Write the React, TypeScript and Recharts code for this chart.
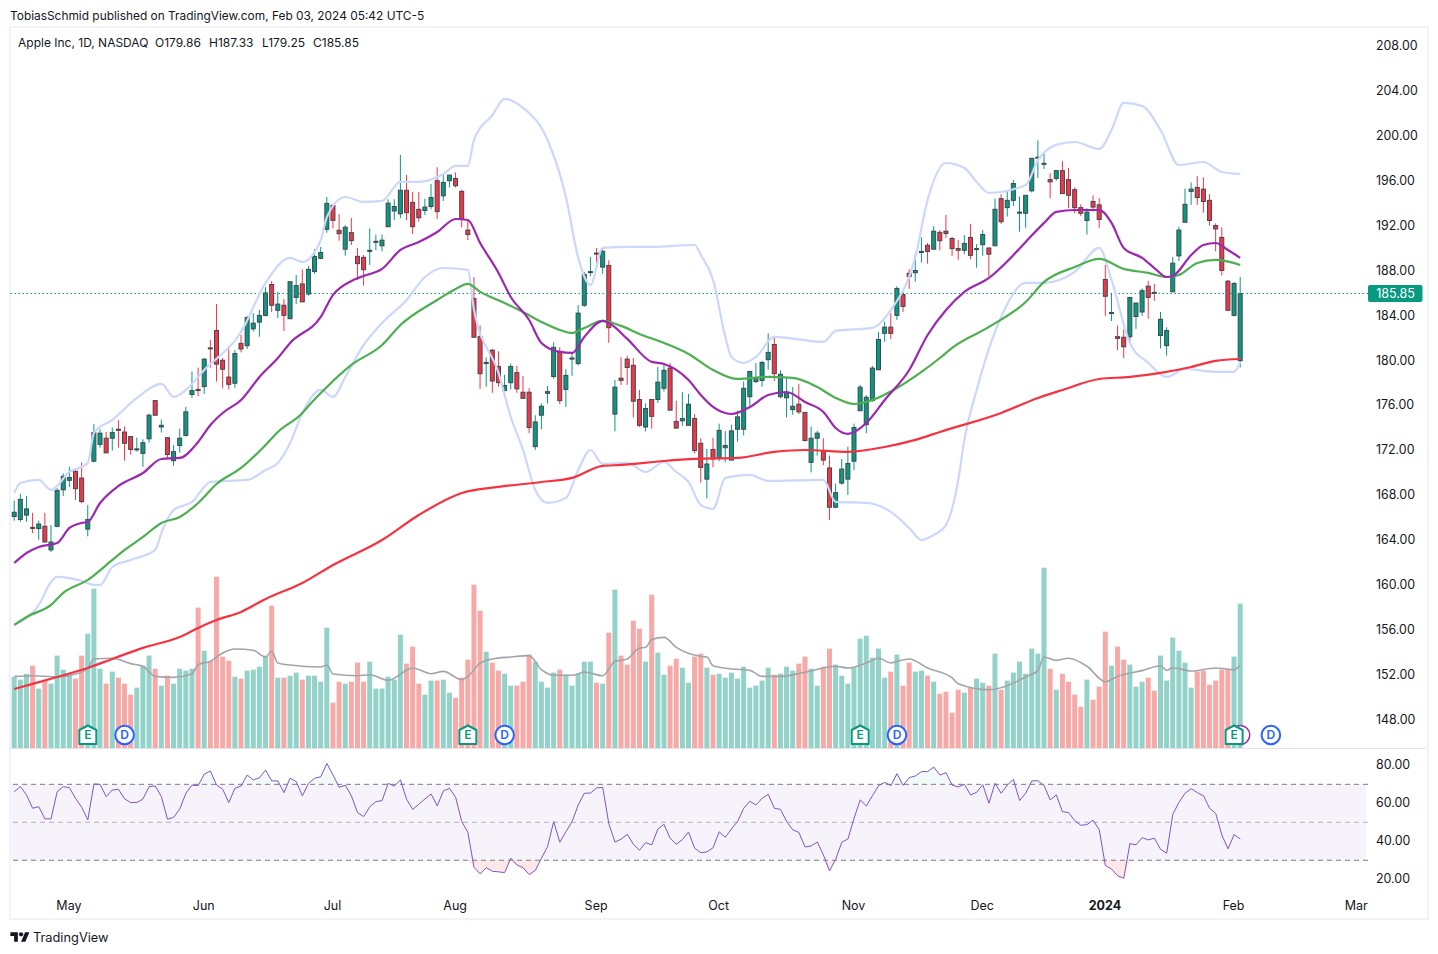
import React from "react";
import { ComposedChart, Bar, Line, Area, XAxis, YAxis, ReferenceLine, ReferenceArea, ReferenceDot } from "recharts";

const opens = [
165.97,165.7,166.1,165.0,164.9,165.1,163.0,165.1,168.35,169.2,
170.0,169.4,164.85,170.9,172.4,172.95,172.95,173.75,173.5,173.1,
171.95,171.6,172.9,176.3,173.95,173.0,170.95,172.3,173.2,176.85,
177.3,177.55,181.0,182.55,179.9,178.4,177.85,181.4,181.2,182.7,
183.3,183.9,186.65,184.35,184.8,183.6,185.5,186.7,185.8,187.8,
188.98,191.57,193.7,191.48,189.8,191.27,189.16,189.07,189.6,190.5,
190.1,191.8,193.2,192.95,195.05,193.97,193.35,193.25,193.6,195.9,
194.55,195.9,196.1,194.95,191.5,185.4,182.0,179.6,180.8,179.35,
177.2,177.9,178.8,177.05,177.05,172.2,175.0,176.95,178.45,180.6,
177.3,180.0,179.6,184.8,187.75,189.45,188.2,188.35,175.1,178.3,
180.0,179.45,176.4,173.95,176.4,176.4,177.4,179.2,174.45,174.5,
174.1,174.7,172.5,169.3,171.95,171.15,172.1,171.0,173.75,173.75,
176.65,178.0,178.1,179.95,181.3,176.65,176.55,175.5,175.98,175.25,
170.8,172.95,171.8,170.3,166.8,168.95,169.3,170.9,175.4,174.15,
176.3,179.05,182.3,182.85,183.9,185.75,187.65,187.7,189.5,190.15,
189.8,191.3,191.4,190.75,189.85,189.7,190.85,189.8,190.2,189.9,
190.1,194.3,193.5,194.15,193.1,193.0,195.0,197.9,197.45,196.0,
196.1,196.8,196.0,195.1,193.5,192.35,194.05,193.75,187.1,184.15,
182.0,181.95,182.0,183.8,184.2,186.5,185.95,182.1,181.2,186.0,
189.2,192.2,194.95,195.3,195.15,194.15,191.9,190.85,186.95,183.9,179.86];

const highs = [
167.4,168.0,167.8,166.3,165.6,166.3,165.2,168.5,169.8,170.4,
170.3,170.8,167.0,174.2,173.75,173.5,173.9,174.55,174.0,173.1,
173.0,172.85,175.15,176.35,174.6,173.0,172.35,173.8,175.75,178.9,
179.25,180.1,181.7,184.9,180.1,181.15,180.8,182.15,183.85,184.1,
184.4,186.4,186.95,186.0,185.35,186.9,187.5,188.0,188.3,189.8,
189.99,194.45,193.8,192.93,191.95,192.58,189.9,189.28,191.65,191.1,
191.1,194.25,194.25,198.2,196.4,194.9,194.9,194.3,195.6,197.1,
196.55,196.4,196.65,195.1,192.4,187.3,183.0,180.15,180.9,180.7,
178.6,179.6,179.4,178.5,177.4,175.0,176.05,177.6,181.5,181.05,
179.1,180.5,184.8,187.75,189.1,189.9,189.85,188.8,178.15,180.17,
180.3,180.1,177.25,176.05,176.4,179.3,179.6,179.65,176.3,177.05,
176.9,175.1,172.95,172.0,173.0,174.25,173.6,174.15,175.4,178.0,
178.95,179.65,179.85,182.3,181.9,179.0,178.4,177.5,177.8,175.25,
174.0,173.6,172.95,171.4,168.9,171.1,172.2,174.25,177.7,176.8,
179.4,182.4,183.35,184.1,186.5,186.0,188.0,189.4,190.85,190.35,
191.85,191.5,192.85,190.9,190.6,191.05,192.05,190.25,191.5,189.95,
194.3,194.7,194.95,195.95,194.5,194.6,197.9,199.5,198.35,196.55,
196.8,197.65,197.05,195.3,193.8,193.45,194.6,194.35,188.4,185.8,
183.0,182.65,185.5,185.0,186.3,186.95,186.7,184.2,182.85,189.1,
191.8,195.2,195.75,196.3,196.2,194.7,192.1,191.75,187.05,186.85,187.33];

const lows = [
165.6,165.5,165.5,164.5,163.9,163.7,162.8,165.0,167.8,168.6,
167.45,167.15,164.2,170.8,172.1,171.6,171.85,172.1,170.95,171.5,
171.75,170.4,172.55,174.95,173.45,171.15,170.5,171.65,173.1,176.55,
176.7,176.9,179.25,178.0,177.4,177.3,177.45,180.6,180.9,182.45,
182.0,183.8,184.2,183.65,182.5,183.6,184.9,185.1,185.65,187.6,
188.9,191.27,191.65,190.56,189.22,190.17,187.05,186.55,188.4,189.7,
189.6,191.8,192.4,192.55,192.4,191.15,192.25,192.85,193.35,192.5,
194.1,195.3,195.3,191.75,190.6,181.95,177.35,177.55,177.0,177.55,
176.55,177.3,177.0,176.5,173.4,171.9,173.75,176.05,178.25,176.0,
175.75,178.5,179.45,184.65,187.4,188.25,187.6,181.45,173.55,177.7,
177.7,174.8,173.95,173.55,173.8,176.1,177.1,175.45,173.85,174.05,
174.1,171.6,169.0,167.6,170.35,170.9,170.8,171.0,172.65,173.2,
175.85,177.85,177.55,179.05,178.05,176.5,174.8,175.05,175.1,172.65,
169.9,171.4,170.55,165.67,166.7,168.8,167.9,170.1,175.4,173.4,
176.2,179.05,181.55,181.8,183.5,184.2,186.25,186.9,188.6,188.5,
189.75,189.7,190.8,189.2,188.85,189.35,188.9,188.15,189.2,187.4,
190.1,192.05,192.7,193.65,191.35,191.7,194.85,196.15,196.95,194.35,
195.9,194.75,193.45,193.0,192.75,191.1,193.15,191.7,183.85,183.4,
180.8,180.1,181.5,182.7,183.85,183.6,185.2,180.95,180.3,186.0,
188.75,192.2,193.75,193.75,193.05,191.9,189.6,187.45,184.35,183.8,179.25];

const closes = [
166.35,167.5,166.65,164.95,165.3,163.7,163.7,168.3,169.55,169.45,
168.45,167.3,165.7,173.45,173.4,171.65,173.45,173.65,172.5,171.95,
172.0,172.55,175.0,175.0,174.1,171.5,171.75,172.95,175.3,177.2,
177.2,180.0,180.95,179.55,179.1,177.75,180.5,180.9,183.7,183.2,
183.9,185.9,184.8,184.9,183.9,186.9,186.55,185.1,188.0,189.15,
189.5,193.88,192.37,191.18,191.75,190.56,188.51,187.97,189.7,190.5,
190.6,193.9,193.6,195.05,193.05,191.8,192.6,193.55,194.4,193.15,
195.75,196.4,195.45,192.45,191.1,181.95,178.7,179.7,178.05,177.9,
177.65,179.35,177.35,176.5,173.9,174.4,175.8,177.1,181.05,176.3,
178.55,180.1,184.1,187.55,187.8,189.4,189.6,182.8,177.5,178.1,
179.25,176.25,174.1,175.6,174.9,177.95,179.0,175.45,173.85,174.7,
175.98,171.85,170.35,170.65,171.1,173.65,172.3,173.6,174.85,177.4,
178.9,178.3,179.7,180.6,178.7,178.65,177.0,175.8,175.3,172.75,
172.95,173.4,171.0,166.8,168.1,170.2,170.7,173.9,177.5,176.6,
179.2,181.75,182.85,182.3,186.3,184.7,187.35,187.9,189.6,189.6,
191.4,190.55,191.2,189.85,189.7,190.3,189.25,189.85,191.1,189.35,
193.35,192.25,194.15,195.65,193.1,194.6,197.9,198.0,197.45,195.8,
196.8,194.75,194.6,193.5,193.0,193.1,193.55,192.45,185.6,184.15,
181.85,181.1,185.5,185.0,186.1,185.5,185.85,183.55,182.55,188.55,
191.5,193.8,195.15,194.4,194.05,192.35,191.6,187.9,184.35,186.75,185.85];

const volumes = [
50.6,48.7,52.9,58.6,42.3,48.0,45.8,65.8,55.8,52.2,
49.4,65.8,81.4,113.5,56.5,45.8,54.4,50.1,45.8,38.0,
43.0,58.6,65.8,56.5,44.4,51.5,45.8,56.5,55.1,56.5,
100.0,69.3,62.2,122.0,65.1,62.2,50.8,49.4,55.1,55.8,
57.9,65.8,101.4,50.1,50.1,51.5,53.7,48.7,51.5,51.5,
47.2,85.7,32.3,47.2,45.8,47.2,60.8,47.2,61.5,42.3,
42.3,50.8,48.7,80.7,60.1,72.2,45.8,38.0,48.0,48.0,
48.7,39.4,35.8,50.1,62.9,116.3,97.8,68.6,60.8,55.1,
52.9,44.4,44.4,47.2,66.5,61.5,47.2,43.0,53.7,55.8,
52.2,44.4,52.9,61.5,61.5,46.5,45.8,82.1,112.8,65.8,
59.4,90.7,85.0,61.5,109.2,67.9,52.2,58.6,63.6,57.2,
46.5,65.1,67.2,57.2,52.2,52.9,50.1,53.7,49.4,57.9,
43.0,44.4,48.0,57.2,52.2,52.9,57.9,55.1,60.1,65.1,
56.5,44.4,57.9,70.8,59.4,51.5,45.8,57.2,77.9,80.0,
64.3,70.8,50.1,54.4,66.5,44.4,60.8,54.4,55.1,51.5,
47.2,38.7,40.1,25.2,41.5,39.4,43.0,49.4,46.5,44.4,
67.2,41.5,48.0,53.7,61.5,52.9,70.8,67.2,128.4,56.5,
41.5,52.9,47.2,38.0,29.4,48.7,34.4,43.7,82.9,58.6,
72.2,62.9,59.4,43.7,47.2,50.1,40.8,65.8,48.0,78.6,
69.3,60.8,43.0,54.4,55.1,45.1,48.0,55.8,56.3,65.1,102.8];

const rsiValues = [
66.1,68.8,64.4,57.4,58.2,51.8,51.8,66.1,68.8,68.2,
62.6,57.9,51.2,70.2,70,63.5,67,67.4,62.3,60.4,
60.4,62.3,68.8,69.1,63.5,51.6,52.6,57,65.3,69.6,
69.3,75.4,77,69.6,67.4,60.4,67.9,69.1,74.9,72.3,
73.5,77.5,71.8,71.8,65.6,73.2,71.4,63.9,70.5,73.2,
74,81,74.9,68.4,69.5,63.9,55.1,53,58.2,60.9,
61.4,70.5,69.1,72.3,62.1,56.8,59.5,62.3,64.9,58.6,
66.5,67.9,63.2,50.4,44.7,26.3,22.8,26.1,24.2,23.9,
23.5,31.1,27.5,26.1,22.5,24.6,31.1,37.2,50.4,39.5,
45.1,50.4,59.1,65.3,65.4,68.1,68.4,49.1,39.6,41.1,
43.7,38.4,35.3,39.3,38.1,46.5,48.9,41.6,38.4,40.9,
44.9,36.3,34,34.4,36.6,45,42.1,46.5,50.4,57.4,
61.1,59.1,62.6,64.7,57.4,56.8,50.4,46,44.7,37,
37.5,39.6,32.8,24.4,30.5,39.5,41.2,52.1,61.8,58.6,
64,69.3,71,69.3,75.6,69.5,73.5,74.4,76.7,76.7,
79.1,74.9,76.1,69.6,68.6,70,64.4,65.8,69.8,60,
70.5,65.3,69.6,72.6,61.4,65.3,71.8,71.9,69.3,61.8,
64.4,55.6,55.1,50.9,48.4,48.8,51.1,46,27.2,25.4,
21.8,20.5,38.8,38.1,41.9,40.7,41.6,35.8,33.7,54.2,
60.5,65.3,67.7,65.6,64,57.4,54.7,43.3,36,43.5,41.2];

type Pt = [number, number];
const ma20Points: Pt[] = [[0,161.83],[2,162.72],[4,163.26],[7,163.61],[9,164.95],[11,165.4],[12,165.49],[14,167.18],[17,168.7],[21,169.85],[24,171.1],[27,171.19],[30,172.62],[32,174.13],[34,175.2],[37,176.36],[40,178.41],[43,180.1],[45,181.44],[50,183.76],[52,185.72],[55,186.97],[57,187.41],[60,188.04],[63,189.73],[66,190.44],[69,191.33],[72,192.49],[74,192.4],[76,190.35],[79,187.68],[81,185.54],[84,183.49],[86,181.44],[89,180.64],[91,180.55],[93,181.98],[96,183.4],[97,183.22],[100,181.8],[104,179.75],[106,179.57],[110,178.14],[112,176.8],[114,175.74],[117,175.11],[120,175.74],[123,176.8],[126,177.07],[129,176.18],[132,175.29],[134,173.86],[136,173.33],[139,174.31],[142,176.36],[146,179.03],[149,182.15],[152,184.38],[155,185.99],[159,187.23],[163,189.28],[165,190.44],[168,192.14],[170,193.12],[173,193.29],[177,193.29],[179,192.14],[181,189.91],[184,189.02],[186,188.12],[188,187.32],[189,187.41],[192,189.28],[194,190.17],[196,190.35],[198,189.73],[200,189.02]];
const ma50Points: Pt[] = [[0,156.31],[2,157.02],[6,158.09],[8,159.16],[12,160.32],[16,162.1],[18,162.99],[21,164.15],[24,165.4],[27,165.93],[30,167.18],[33,168.87],[37,170.3],[41,172.35],[43,173.51],[47,175.2],[48,175.83],[51,177.52],[55,179.48],[60,181.26],[63,183.04],[69,185.27],[72,186.25],[74,186.7],[76,185.99],[80,185.0],[83,184.2],[86,183.31],[89,182.6],[91,182.33],[93,182.78],[96,183.4],[99,182.96],[102,182.24],[106,181.44],[110,180.46],[114,179.03],[118,178.23],[123,178.41],[127,178.32],[131,177.52],[134,176.54],[137,176.0],[140,176.36],[144,177.43],[148,178.86],[151,180.1],[153,181.0],[159,182.87],[165,185.09],[168,186.88],[173,188.21],[177,188.93],[181,188.04],[185,187.68],[188,187.32],[190,187.5],[193,188.57],[196,188.84],[200,188.39]];
const ma200Points: Pt[] = [[0,150.6],[3,151.05],[7,151.67],[12,152.47],[16,153.28],[21,154.26],[27,155.24],[30,156.04],[33,156.75],[37,157.47],[41,158.62],[47,160.05],[52,161.65],[60,163.88],[66,166.11],[73,168.07],[79,168.61],[86,169.05],[91,169.41],[96,170.48],[99,170.57],[106,170.92],[111,171.1],[118,171.19],[124,171.73],[129,171.9],[136,171.73],[142,172.17],[147,172.8],[151,173.51],[161,175.2],[167,176.54],[171,177.25],[177,178.23],[182,178.41],[187,178.77],[192,179.3],[196,179.84],[200,180.01]];
const bbUpperPoints: Pt[] = [[0,168.07],[1,168.96],[4,169.23],[6,168.34],[9,169.94],[12,170.75],[13,173.42],[16,174.58],[20,176.54],[24,177.79],[26,176.63],[28,177.25],[31,179.03],[37,182.42],[41,186.79],[45,189.02],[47,188.66],[50,190.62],[51,192.67],[54,194.45],[57,194.01],[60,194.1],[63,195.79],[66,195.79],[70,196.5],[72,197.22],[74,197.22],[75,199.53],[78,201.76],[80,203.19],[83,202.39],[87,199.53],[90,194.45],[92,189.02],[94,186.61],[96,189.91],[100,190.0],[104,190.0],[111,190.17],[112,189.28],[114,187.06],[116,181.98],[117,180.19],[119,179.66],[121,180.19],[124,181.98],[132,181.53],[134,182.51],[140,182.78],[143,184.38],[147,189.11],[149,194.19],[152,197.48],[155,197.04],[157,195.79],[159,194.81],[165,195.52],[167,197.75],[170,199.09],[173,199.35],[177,198.73],[179,200.42],[181,202.83],[184,202.56],[187,200.42],[190,197.3],[194,197.57],[197,196.68],[200,196.5]];
const bbLowerPoints: Pt[] = [[0,156.31],[4,158.09],[6,160.14],[7,160.59],[11,160.23],[13,159.87],[14,159.87],[16,161.48],[19,162.1],[23,162.99],[24,164.51],[26,166.56],[29,167.27],[32,169.05],[38,169.23],[41,170.12],[43,170.75],[45,172.53],[47,175.2],[50,177.25],[52,176.63],[54,178.41],[57,181.26],[60,183.22],[64,185.27],[67,187.32],[70,188.12],[74,187.95],[75,184.38],[79,178.77],[81,174.85],[83,171.9],[85,168.34],[87,167.18],[90,167.63],[92,170.12],[94,171.9],[96,170.66],[100,170.75],[103,169.94],[106,170.83],[108,169.94],[110,169.05],[112,167.0],[114,166.65],[116,169.41],[120,169.68],[123,169.14],[132,169.23],[134,167.27],[139,167.18],[143,166.38],[146,164.95],[148,163.88],[150,164.33],[152,165.22],[154,169.23],[155,172.8],[157,177.25],[161,183.76],[165,186.79],[168,186.79],[173,187.77],[177,189.91],[179,187.06],[182,181.44],[185,179.66],[188,178.41],[191,179.12],[196,178.86],[199,178.86],[200,179.75]];
const volMaPoints: Pt[] = [[0,51.0],[3,51.5],[7,50.6],[10,52.7],[12,57.0],[13,63.4],[16,63.9],[19,60.1],[21,58.2],[23,51.0],[26,50.3],[29,52.9],[30,59.4],[32,61.7],[34,67.7],[36,70.5],[39,69.6],[41,64.8],[42,68.9],[43,60.5],[45,59.1],[50,57.7],[51,59.1],[52,52.7],[56,51.5],[58,52.2],[61,48.2],[65,57.0],[68,52.9],[70,54.6],[73,48.7],[74,51.0],[76,60.5],[78,63.4],[81,64.8],[84,65.8],[86,55.8],[88,51.8],[91,51.8],[93,54.1],[96,51.5],[98,61.7],[100,63.4],[102,71.2],[103,71.7],[104,77.2],[106,78.8],[108,71.7],[112,65.3],[113,64.8],[114,58.6],[117,56.3],[120,55.3],[122,51.0],[125,51.0],[129,53.9],[134,58.2],[136,57.0],[139,60.5],[141,63.9],[143,60.5],[144,61.7],[146,63.4],[149,57.0],[153,49.9],[154,45.8],[159,41.5],[162,44.4],[165,50.6],[167,55.3],[168,64.8],[170,62.4],[172,63.9],[175,58.2],[178,47.2],[180,51.0],[184,55.1],[187,58.6],[188,55.3],[189,57.2],[192,54.8],[196,57.0],[199,55.8],[200,59.1]];

const priceTicks = [148,152,156,160,164,168,172,176,180,184,188,192,196,200,204,208];
const rsiTicks = [20,40,60,80];
const monthTickIndex = [9,31,52,72,95,115,137,158,178,199,219];
const monthTickLabels = ["May","Jun","Jul","Aug","Sep","Oct","Nov","Dec","2024","Feb","Mar"];
const earningsBars = [12,74,138,199];
const dividendBars = [18,80,144,205];
const splitRingBars = [200];
const lastClose = 185.85;
const markerLevel = 9.26;
const totalRows = 221;

const rows: any[] = Array.from({ length: totalRows }, (_, i) => ({
  i,
  o: opens[i] ?? null, h: highs[i] ?? null, l: lows[i] ?? null, c: closes[i] ?? null,
  v: volumes[i] ?? null, rsi: rsiValues[i] ?? null,
}));
const fill = (pts: Pt[], key: string) => pts.forEach(([i, v]) => { rows[i][key] = v; });
fill(ma20Points, "ma20"); fill(ma50Points, "ma50"); fill(ma200Points, "ma200");
fill(bbUpperPoints, "bbU"); fill(bbLowerPoints, "bbL"); fill(volMaPoints, "volMa");

const UP = "#089981", DOWN = "#f23645", FONT = "Inter, sans-serif", TXT = "#131722";
const W = 1438, H = 954;
const xPad = { left: 1.2, right: 2.1 };

const Candle = (p: any) => {
  const { x, y, width, height, payload: d } = p;
  if (d.h == null) return null;
  const scale = height / (d.h - d.l);
  const cx = x + width / 2;
  const top = y + (d.h - Math.max(d.o, d.c)) * scale;
  const bh = Math.max(Math.abs(d.o - d.c) * scale, 1);
  const col = d.c >= d.o ? UP : DOWN;
  return (
    <g>
      <line x1={cx} x2={cx} y1={y} y2={y + height} stroke={col} strokeWidth={1} />
      <rect x={cx - 2} y={top} width={4} height={bh} fill={col} stroke="#434651" strokeWidth={1} />
    </g>
  );
};
const VolBar = (p: any) => {
  const { x, y, width, height, payload: d } = p;
  if (d.v == null) return null;
  const cx = x + width / 2;
  return <rect x={cx - 2.5} y={y} width={5} height={height} fill={d.c >= d.o ? "#92d2c8" : "#f7a9a7"} />;
};
const EMark = ({ cx, cy }: any) => (
  <g>
    <path d={`M${cx - 8.5} ${cy - 5} L${cx} ${cy - 9.5} L${cx + 8.5} ${cy - 5} L${cx + 8.5} ${cy + 9} L${cx - 8.5} ${cy + 9} Z`} fill="#fff" stroke={UP} strokeWidth={2} strokeLinejoin="round" />
    <text x={cx} y={cy + 4.5} textAnchor="middle" fontFamily={FONT} fontSize={12} fontWeight={600} fill={UP}>E</text>
  </g>
);
const DMark = ({ cx, cy }: any) => (
  <g>
    <circle cx={cx} cy={cy} r={9.3} fill="#fff" stroke="#2962ff" strokeWidth={2} />
    <text x={cx} y={cy + 4.5} textAnchor="middle" fontFamily={FONT} fontSize={12} fontWeight={600} fill="#2962ff">D</text>
  </g>
);
const RingMark = ({ cx, cy }: any) => <circle cx={cx} cy={cy} r={9.5} fill="#fff" stroke="#9c27b0" strokeWidth={1.5} />;

const MonthTick = ({ x, y, payload }: any) => {
  const label = monthTickLabels[monthTickIndex.indexOf(payload.value)];
  return (
    <text x={x - 0.5} y={y + 7} textAnchor="middle" fontFamily={FONT} fontSize={12.5} fontWeight={label === "2024" ? 700 : 400} fill={TXT}>{label}</text>
  );
};
const LastLabel = ({ viewBox }: any) => {
  const right = viewBox.x + viewBox.width;
  return (
    <g>
      <rect x={right} y={viewBox.y - 8.5} width={54.5} height={17} rx={2} fill={UP} />
      <text x={right + 27.5} y={viewBox.y + 4.5} textAnchor="middle" fontFamily={FONT} fontSize={12.5} fill="#fff">185.85</text>
    </g>
  );
};
const overlay = (name: string, stroke: string) => (
  <Line key={name} dataKey={name} type="monotone" stroke={stroke} strokeWidth={2.2} dot={false} connectNulls isAnimationActive={false} />
);
const abs: React.CSSProperties = { position: "absolute", left: 0, top: 0 };
const priceTick = { fontFamily: FONT, fontSize: 12.4, fill: TXT, dy: 1 };
const rsiTick = { fontFamily: FONT, fontSize: 12.4, fill: TXT, dy: -1 };

export default function App() {
  return (
    <div style={{ position: "absolute", left: 0, top: 0, width: W, height: H, background: "#fff", fontFamily: FONT, color: TXT, overflow: "hidden" }}>
      <div style={{ position: "absolute", left: 10, top: 8, fontSize: 11.9, lineHeight: "15px", whiteSpace: "nowrap" }}>TobiasSchmid published on TradingView.com, Feb 03, 2024 05:42 UTC-5</div>
      <div style={{ position: "absolute", left: 9, top: 26, width: 1416, height: 890, border: "2px solid #f0f3fa" }} />
      <div style={{ position: "absolute", left: 10, top: 748, width: 1416, height: 1, background: "#e0e3eb" }} />

      <ComposedChart style={abs} width={W} height={H} data={rows} barCategoryGap={0} margin={{ top: 27, right: 0, bottom: 206, left: 10 }}>
        <XAxis dataKey="i" type="category" scale="band" hide padding={xPad} />
        <YAxis yAxisId="vol" orientation="right" width={70} domain={[0, 513.5]} tick={false} axisLine={false} tickLine={false} />
        <Bar yAxisId="vol" dataKey="v" shape={<VolBar />} isAnimationActive={false} />
        <Line yAxisId="vol" dataKey="volMa" type="monotone" stroke="#a3a3aa" strokeWidth={1.6} dot={false} connectNulls isAnimationActive={false} />
        {splitRingBars.map((i) => <ReferenceDot key={"s" + i} yAxisId="vol" x={i} y={markerLevel} shape={<RingMark />} />)}
        {earningsBars.map((i) => <ReferenceDot key={"e" + i} yAxisId="vol" x={i} y={markerLevel} shape={<EMark />} />)}
        {dividendBars.map((i) => <ReferenceDot key={"d" + i} yAxisId="vol" x={i} y={markerLevel} shape={<DMark />} />)}
      </ComposedChart>

      <ComposedChart style={abs} width={W} height={H} data={rows} barCategoryGap={0} margin={{ top: 27, right: 0, bottom: 206, left: 10 }}>
        <XAxis dataKey="i" type="category" scale="band" hide padding={xPad} />
        <YAxis orientation="right" width={70} domain={[145.34, 209.6]} ticks={priceTicks} interval={0} allowDataOverflow tickFormatter={(v: number) => v.toFixed(2)} tick={priceTick} tickSize={0} tickMargin={8} axisLine={false} tickLine={false} />
        <ReferenceLine y={lastClose} stroke="#089981" strokeDasharray="1.5 2.5" strokeWidth={1.2} label={<LastLabel />} />
        {overlay("bbU", "#ccd8fb")}
        {overlay("bbL", "#ccd8fb")}
        {overlay("ma200", "#f7323f")}
        {overlay("ma50", "#4caf50")}
        {overlay("ma20", "#9c27b0")}
        <Bar dataKey={(d: any) => (d.h == null ? null : [d.l, d.h])} shape={<Candle />} isAnimationActive={false} />
      </ComposedChart>

      <ComposedChart style={abs} width={W} height={H} data={rows} barCategoryGap={0} margin={{ top: 749, right: 0, bottom: 36, left: 10 }}>
        <XAxis dataKey="i" type="category" scale="band" height={23} padding={xPad} ticks={monthTickIndex} interval={0} tick={<MonthTick />} axisLine={false} tickLine={false} />
        <YAxis orientation="right" width={70} domain={[11.7, 88.6]} ticks={rsiTicks} interval={0} allowDataOverflow tickFormatter={(v: number) => v.toFixed(2)} tick={rsiTick} tickSize={0} tickMargin={8} axisLine={false} tickLine={false} />
        <ReferenceArea y1={30} y2={70} fill="#7e57c2" fillOpacity={0.07} stroke="none" />
        <ReferenceLine y={70} stroke="#787b86" strokeDasharray="5 4" />
        <ReferenceLine y={50} stroke="#787b86" strokeOpacity={0.55} strokeDasharray="5 4" />
        <ReferenceLine y={30} stroke="#787b86" strokeDasharray="5 4" />
        <Area dataKey={(d: any) => (d.rsi == null ? null : [70, Math.max(d.rsi, 70)])} stroke="none" fill={UP} fillOpacity={0.05} dot={false} activeDot={false} isAnimationActive={false} />
        <Area dataKey={(d: any) => (d.rsi == null ? null : [Math.min(d.rsi, 30), 30])} stroke="none" fill={DOWN} fillOpacity={0.12} dot={false} activeDot={false} isAnimationActive={false} />
        <Bar dataKey={() => null} isAnimationActive={false} />
        <Line dataKey="rsi" type="linear" stroke="#7e57c2" strokeWidth={1} dot={false} isAnimationActive={false} />
      </ComposedChart>

      <div style={{ position: "absolute", left: 18, top: 35, fontSize: 12, lineHeight: "15px", whiteSpace: "pre" }}>
        <span>Apple Inc, 1D, NASDAQ</span>
        <span style={{ position: "absolute", left: 137 }}>O179.86</span>
        <span style={{ position: "absolute", left: 191 }}>H187.33</span>
        <span style={{ position: "absolute", left: 244 }}>L179.25</span>
        <span style={{ position: "absolute", left: 295 }}>C185.85</span>
      </div>

      <svg style={{ position: "absolute", left: 10, top: 930 }} width={20} height={15} viewBox="0 0 36 28">
        <path d="M14 22H7V11H0V4h14v18zM28 22h-8l7.5-18h8L28 22z" fill={TXT} />
        <circle cx={20} cy={8} r={4} fill={TXT} />
      </svg>
      <div style={{ position: "absolute", left: 33, top: 930, fontSize: 12.8, lineHeight: "15px" }}>TradingView</div>
    </div>
  );
}
